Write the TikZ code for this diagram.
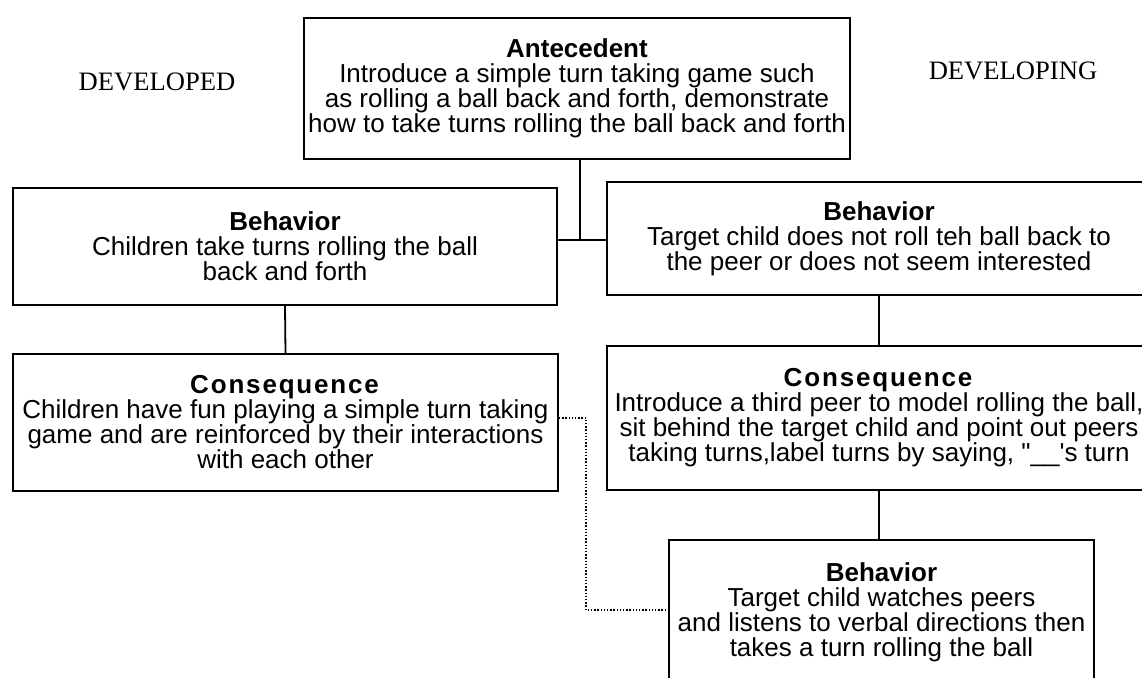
\documentclass[tikz,border=0pt]{standalone}
\usepackage{fontspec}
\setmainfont{Liberation Sans}
\newfontfamily\nolig{Liberation Sans}
\newfontfamily\capsfont{Liberation Serif}
\begin{document}
\begin{tikzpicture}[x=0.5pt,y=-0.5pt,
  box/.style={draw, line width=1pt, anchor=north west, inner sep=0pt, align=center,
    font=\fontsize{13}{12.5}\selectfont},
  conn/.style={line width=0.9pt},
  dotline/.style={line width=0.9pt, dash pattern=on 0.7pt off 0.9pt},
  side/.style={font=\capsfont\fontsize{13.3}{14}\selectfont}
]
\useasboundingbox (0,0) rectangle (1142,678);
\fill[white] (0,0) rectangle (1142,678);
\newcommand{\hd}[1]{\textbf{#1}}
\newcommand{\hdsp}[1]{\textbf{\addfontfeature{LetterSpace=7}#1}}

\node[side] (dvd) at (157,82) {DEVELOPED};
\node[side] (dvg) at (1013,71) {DEVELOPING};

\node[box, minimum width=273pt, minimum height=70.5pt] (ant) at (303,17)
  {\hd{Antecedent}\\Introduce a simple turn taking game such\\as rolling a ball back and forth, demonstrate\\how to take turns rolling the ball back and forth};

\node[box, minimum width=272pt, minimum height=58.5pt] (lb) at (12,187)
  {\hd{Behavior}\\Children take turns rolling the ball\\back and forth};

\node[box, minimum width=272pt, minimum height=56.5pt] (rb) at (606,181)
  {\hd{Behavior}\\Target child does not roll teh ball back to\\the peer or does not seem interested};

\node[box, minimum width=272.5pt, minimum height=68.5pt] (lc) at (12,353)
  {\hdsp{Consequence}\\Children have fun playing a simple turn taking\\game and are reinforced by their interactions\\with each other};

\node[box, minimum width=272pt, minimum height=72pt] (rc) at (606,345)
  {\hdsp{Consequence}\\Introduce a third peer to model rolling the ball,\\sit behind the target child and point out peers\\taking turns,label turns by saying, {\nolig "\_\_'s} turn};

\node[box, minimum width=212.5pt, minimum height=72.5pt] (bb) at (668,539)
  {\hd{Behavior}\\Target child watches peers\\and listens to verbal directions then\\takes a turn rolling the ball};

\coordinate (j) at (580,240);
\draw[conn] (ant.south -| j) -- (j);
\draw[conn] (lb.east |- j) -- (rb.west |- j);
\draw[conn] (lb.south) -- (lc.north);
\draw[conn] (rb.south) -- (rc.north);
\draw[conn] (rc.south) -- (rc.south |- bb.north);

\coordinate (d1) at (586,418);
\coordinate (d2) at (586,610);
\draw[dotline] (lc.east |- d1) -- (d1) -- (d2) -- (bb.west |- d2);
\end{tikzpicture}
\end{document}
